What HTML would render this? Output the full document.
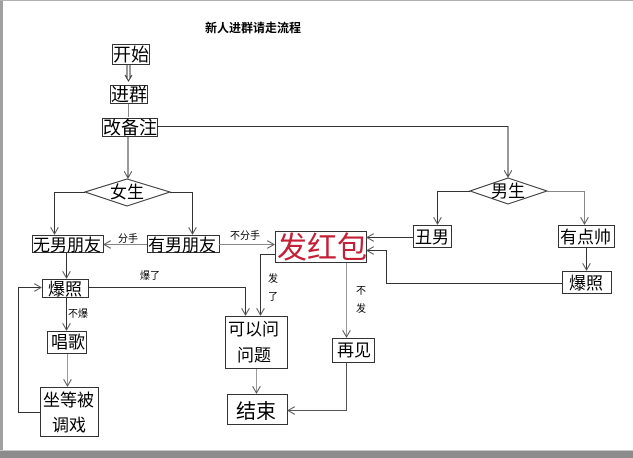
<!DOCTYPE html>
<html><head><meta charset="utf-8"><style>
html,body{margin:0;padding:0;background:#fff}
svg{display:block}
text{font-family:"Liberation Sans","Noto Sans CJK SC","WenQuanYi Zen Hei",sans-serif;fill:#000}
</style></head><body>
<svg width="633" height="458" viewBox="0 0 633 458" xmlns="http://www.w3.org/2000/svg">
<defs>
<marker id="a" markerWidth="8" markerHeight="8" refX="7" refY="4" orient="auto" markerUnits="userSpaceOnUse">
<path d="M0,0 L7,4 L0,8" fill="none" stroke="#555" stroke-width="1"/></marker>
</defs>
<rect x="0" y="0" width="633" height="458" fill="#fff"/>
<rect x="0" y="0" width="3" height="458" fill="#a0a0a0"/>
<rect x="0" y="0" width="633" height="1" fill="#b0b0b0"/>
<rect x="0" y="451" width="633" height="7" fill="#8c8c8c"/>
<rect x="0" y="450" width="633" height="1" fill="#c8c8c8"/>

<text x="205" y="32" font-size="12" font-weight="bold">新人进群请走流程</text>

<g fill="#fff" stroke="#333" stroke-width="1">
<rect x="112.5" y="44.5" width="37" height="20"/>
<rect x="110.5" y="85.5" width="37" height="18"/>
<rect x="102.5" y="118.5" width="55" height="18"/>
<polygon points="85,192 127,179 170,192 127,206"/>
<polygon points="470,191 508,178 547,191 508,204"/>
<rect x="32.5" y="235.5" width="71" height="17"/>
<rect x="147.5" y="235.5" width="72" height="17"/>
<rect x="275.5" y="231.5" width="91" height="31"/>
<rect x="413.5" y="225.5" width="38" height="22"/>
<rect x="558.5" y="225.5" width="56" height="22"/>
<rect x="562.5" y="271.5" width="49" height="22"/>
<rect x="42.5" y="279.5" width="46" height="18"/>
<rect x="47.5" y="331.5" width="39" height="22"/>
<rect x="40.5" y="387.5" width="58" height="49"/>
<rect x="225.5" y="316.5" width="62" height="52"/>
<rect x="332.5" y="338.5" width="42" height="24"/>
<rect x="227.5" y="394.5" width="60" height="30"/>
</g>

<g fill="none" stroke="#333" stroke-width="1">
<path d="M127,65 V79 M130,65 V79"/>
<path d="M125,75 L128.5,81 L132,75"/>
<path d="M128.5,104 V117" stroke="#888"/>
<path d="M128,137 V178" marker-end="url(#a)"/>
<path d="M157,126.5 H508 V177" marker-end="url(#a)"/>
<path d="M85,192.5 H54.5 V234" marker-end="url(#a)"/>
<path d="M170,192.5 H192.5 V234" marker-end="url(#a)"/>
<path d="M147,244.5 H104" stroke="#888" marker-end="url(#a)"/>
<path d="M219,244.5 H274" stroke="#888" marker-end="url(#a)"/>
<path d="M413,237.5 H367" marker-end="url(#a)"/>
<path d="M470,191.5 H437.5 V224" marker-end="url(#a)"/>
<path d="M547,191.5 H584.5 V224" stroke="#888" marker-end="url(#a)"/>
<path d="M586.5,248 V270" marker-end="url(#a)"/>
<path d="M562,283.5 H386.5 V250.5 H367" marker-end="url(#a)"/>
<path d="M66.5,253 V278" marker-end="url(#a)"/>
<path d="M88,287.5 H245.5 V315" marker-end="url(#a)"/>
<path d="M275,254.5 H260.5 V315" marker-end="url(#a)"/>
<path d="M346.5,263 V337" stroke="#999" marker-end="url(#a)"/>
<path d="M346.5,363 V410.5 H288" stroke="#555" marker-end="url(#a)"/>
<path d="M256.5,369 V393" stroke="#999" marker-end="url(#a)"/>
<path d="M66.5,298 V330" marker-end="url(#a)"/>
<path d="M67.5,354 V386" stroke="#999" marker-end="url(#a)"/>
<path d="M40,412.5 H18.5 V287.5 H41" marker-end="url(#a)"/>
</g>

<g font-size="17">
<text x="113" y="61" font-size="18">开始</text>
<text x="111" y="101" font-size="18">进群</text>
<text x="103" y="134" font-size="18">改备注</text>
<text x="110" y="198">女生</text>
<text x="491" y="197">男生</text>
<text x="33" y="251">无男朋友</text>
<text x="148" y="251">有男朋友</text>
<text x="415" y="243">丑男</text>
<text x="560" y="243">有点帅</text>
<text x="569" y="289">爆照</text>
<text x="48" y="295">爆照</text>
<text x="51" y="348">唱歌</text>
<text x="43" y="406">坐等被</text>
<text x="52" y="431">调戏</text>
<text x="228" y="335">可以问</text>
<text x="237" y="361">问题</text>
<text x="337" y="356">再见</text>
<text x="236" y="418" font-size="20">结束</text>
</g>
<text x="277" y="258" font-size="30" style="fill:#c42038">发红包</text>
<g font-size="10">
<text x="118" y="242">分手</text>
<text x="230" y="239">不分手</text>
<text x="140" y="279">爆了</text>
<text x="68" y="317">不爆</text>
<text x="268" y="282">发</text>
<text x="268" y="300">了</text>
<text x="356" y="294">不</text>
<text x="356" y="312">发</text>
</g>
</svg>
</body></html>
